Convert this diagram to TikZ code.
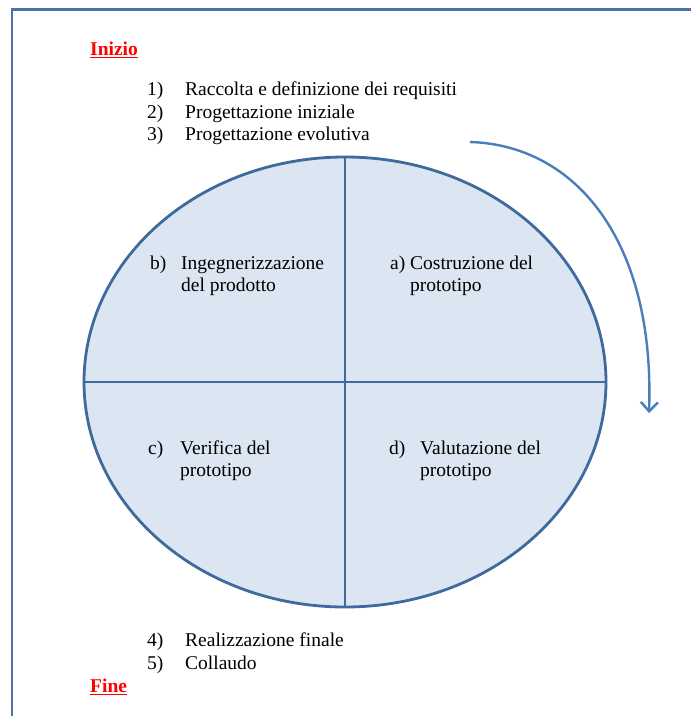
\documentclass[tikz,border=0pt]{standalone}
\usepackage{fontspec}
\setmainfont{Liberation Serif}
\usetikzlibrary{arrows.meta,shapes.geometric}
\definecolor{cornice}{HTML}{4A72A8}
\definecolor{bordo}{HTML}{3E6A9E}
\definecolor{riemp}{HTML}{DCE6F2}
\definecolor{freccia}{HTML}{4A7EBB}
\definecolor{rosso}{HTML}{FF0000}
\tikzset{testo/.style={anchor=base west,inner sep=0pt,font=\fontsize{19.5}{22}\selectfont},titolo/.style={testo,text=rosso,font=\fontsize{19.5}{22}\selectfont\bfseries},asse/.style={draw=bordo,line width=2.8pt},giro/.style={-{Straight Barb[length=9pt,width=17pt,line width=2.5pt]},draw=freccia,line width=2.4pt}}
\begin{document}
\begin{tikzpicture}[x=1pt,y=-1pt]
\useasboundingbox (0,0) rectangle (691,716);
\draw[cornice,line width=2.5pt] (691,9.5)--(12,9.5)--(12,716);
% ciclo a spirale
\node[ellipse,draw=bordo,fill=riemp,line width=2.8pt,minimum width=522pt,minimum height=450pt,inner sep=0pt,outer sep=0pt] (ciclo) at (345,382) {};
\draw[asse] (ciclo.north)--(ciclo.south);\draw[asse] (ciclo.west)--(ciclo.east);
\coordinate (giro0) at (470,142);\coordinate (giro1) at (649,413);
\draw[giro] (giro0) .. controls (575,145) and (655,240) .. (giro1);
% fasi
\node[titolo] (ini) at (90,55) {Inizio};\draw[rosso,line width=1.5pt] ([yshift=-2.5pt]ini.base west)--([yshift=-2.5pt]ini.base east);
\node[titolo] (fine) at (90,692) {Fine};\draw[rosso,line width=1.5pt] ([yshift=-2.5pt]fine.base west)--([yshift=-2.5pt]fine.base east);
\foreach \n/\y/\t in {1/95.5/Raccolta e definizione dei requisiti,2/118/Progettazione iniziale,3/140.5/Progettazione evolutiva,4/646.5/Realizzazione finale,5/669/Collaudo}{\node[testo] (num\n) at (147,\y) {\n)};\node[testo] (fase\n) at (185,\y) {\t};}
\foreach \q/\lx/\tx/\y/\a/\b in {b/150/181/269/Ingegnerizzazione/del prodotto,a/390/410/269/Costruzione del/prototipo,c/148/180/454/Verifica del/prototipo,d/389/420/454/Valutazione del/prototipo}{\node[testo] (let\q) at (\lx,\y) {\q)};\node[testo] (riga\q) at (\tx,\y) {\a};\node[testo] (sub\q) at (\tx,\y+22) {\b};}
\end{tikzpicture}
\end{document}
